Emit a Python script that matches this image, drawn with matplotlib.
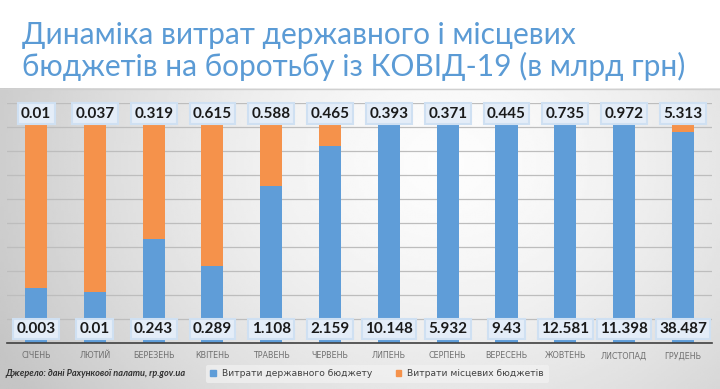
import numpy as np
import matplotlib.pyplot as plt
from matplotlib.patches import Rectangle

months = ['СІЧЕНЬ', 'ЛЮТИЙ', 'БЕРЕЗЕНЬ', 'КВІТЕНЬ', 'ТРАВЕНЬ', 'ЧЕРВЕНЬ',
          'ЛИПЕНЬ', 'СЕРПЕНЬ', 'ВЕРЕСЕНЬ', 'ЖОВТЕНЬ', 'ЛИСТОПАД', 'ГРУДЕНЬ']
state = [0.003, 0.01, 0.243, 0.289, 1.108, 2.159,
         10.148, 5.932, 9.43, 12.581, 11.398, 38.487]
local = [0.01, 0.037, 0.319, 0.615, 0.588, 0.465,
         0.393, 0.371, 0.445, 0.735, 0.972, 5.313]

state = np.array(state)
local = np.array(local)
total = state + local
state_pct = state / total * 100
local_pct = local / total * 100

blue = '#5f9dd8'
orange = '#f5924b'

fig = plt.figure(figsize=(7.2, 3.89), dpi=100)

# grey gradient backdrop of the chart image
bg = fig.add_axes([0, 0, 1, 0.774])
bg.set_axis_off()
xx, yy = np.meshgrid(np.linspace(0, 1, 300), np.linspace(0, 1, 160))
d = np.sqrt(((xx - 0.62) / 0.7) ** 2 + ((yy - 0.75) / 1.4) ** 2)
shade = 0.99 - 0.22 * np.clip(d, 0, 1) ** 1.5
bg.imshow(shade, cmap='gray', vmin=0, vmax=1, aspect='auto',
          extent=[0, 1, 0, 1], origin='lower')
bg.set_xlim(0, 1)
bg.set_ylim(0, 1)
bg.axhline(0.995, color='#d0d0d0', lw=1)

ax = fig.add_axes([0.0092, 0.1183, 0.9802, 0.6169])
ax.patch.set_alpha(0)
x = np.arange(len(months))
ax.bar(x, state_pct, width=0.375, color=blue, zorder=3)
ax.bar(x, local_pct, width=0.375, bottom=state_pct, color=orange, zorder=3)

ax.set_xlim(-0.5, len(months) - 0.5)
ax.set_ylim(0, 100)
ax.set_yticks(np.arange(0, 101, 10))
ax.yaxis.grid(True, color='#bdbdbd', lw=0.9, zorder=0)
ax.tick_params(axis='y', left=False, labelleft=False)
ax.tick_params(axis='x', length=0, pad=6)
ax.set_xticks(x)
ax.set_xticklabels(months, fontsize=5.8, color='#707070', family='DejaVu Sans')
for s in ['top', 'right', 'left']:
    ax.spines[s].set_visible(False)
ax.spines['bottom'].set_color('#404040')
ax.spines['bottom'].set_linewidth(1.2)
ax.spines['bottom'].set_zorder(4)

box = dict(boxstyle='square,pad=0.22', fc='#e4edf8', ec='#cfe0f2', lw=1.5)
for i in range(len(months)):
    ax.text(x[i], 95.6, '{:g}'.format(local[i]), ha='center', va='center',
            fontsize=11, fontweight='bold', family='Lato', color='#1a1a1a',
            bbox=box, zorder=5)
    ax.text(x[i], 5.8, '{:g}'.format(state[i]), ha='center', va='center',
            fontsize=11, fontweight='bold', family='Lato', color='#1a1a1a',
            bbox=box, zorder=5)

title_color = '#5b9bd5'
fig.text(0.0306, 1 - 44 / 389, 'Динаміка витрат державного і місцевих',
         fontsize=21.5, family='Lato', color=title_color, va='baseline')
fig.text(0.0306, 1 - 76 / 389, 'бюджетів на боротьбу із КОВІД-19 (в млрд грн)',
         fontsize=21.5, family='Lato', color=title_color, va='baseline')

fig.text(0.007, 1 - 374 / 389, 'Джерело: дані Рахункової палати, rp.gov.ua',
         fontsize=6.6, style='italic', fontweight='bold', color='#303030',
         va='center', family='Lato')

handles = [Rectangle((0, 0), 1, 1, color=blue), Rectangle((0, 0), 1, 1, color=orange)]
leg = fig.legend(handles, ['Витрати державного бюджету', 'Витрати місцевих бюджетів'],
                 loc='center', bbox_to_anchor=(0.524, 1 - 374 / 389), ncol=2,
                 fontsize=6.6, frameon=True, handlelength=0.55, handleheight=0.55,
                 columnspacing=2.6, handletextpad=0.7, borderpad=0.5)
leg.get_frame().set_facecolor('#f2f2f2')
leg.get_frame().set_edgecolor('none')
leg.get_frame().set_alpha(0.7)
for t in leg.get_texts():
    t.set_color('#404040')

fig.savefig('out.png', dpi=100)
